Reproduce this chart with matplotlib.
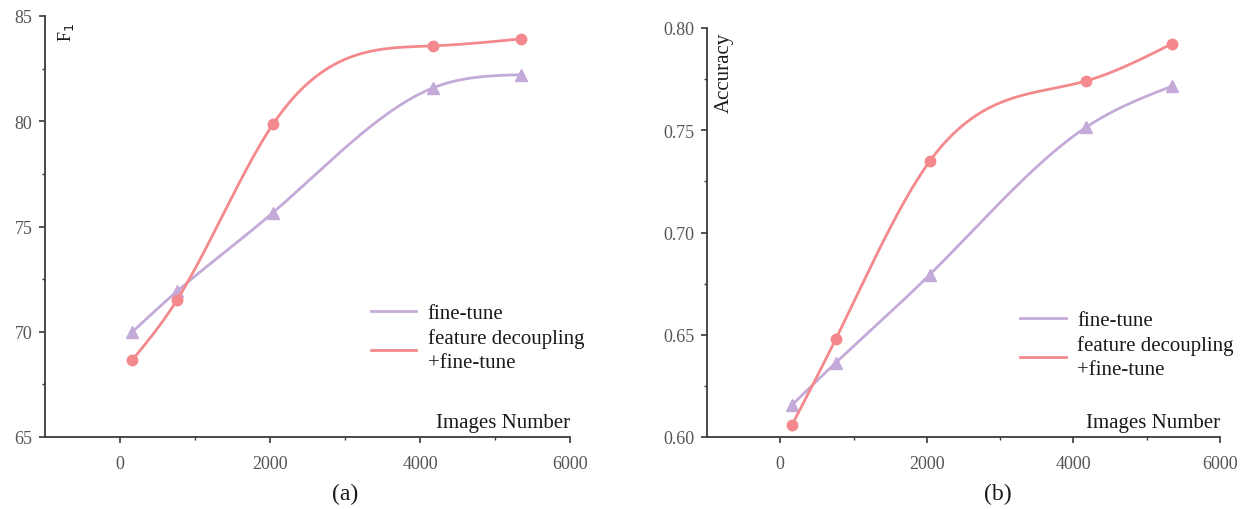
import numpy as np
import matplotlib
matplotlib.use("Agg")
import matplotlib.pyplot as plt
from matplotlib.ticker import MultipleLocator, FixedLocator

# ---- data ----
images = [160, 760, 2040, 4170, 5340]
f1_finetune = [69.98, 71.92, 75.66, 81.58, 82.21]
f1_decouple = [68.64, 71.51, 79.86, 83.58, 83.91]
acc_finetune = [0.6157, 0.6364, 0.6794, 0.7514, 0.7715]
acc_decouple = [0.6059, 0.6481, 0.7349, 0.7741, 0.7922]
x_ticks = [0, 2000, 4000, 6000]
f1_ticks = [65, 70, 75, 80, 85]
acc_ticks = [0.60, 0.65, 0.70, 0.75, 0.80]
label_ft = "fine-tune"
label_fd = "feature decoupling\n+fine-tune"

PURPLE = "#C4AAD8"
RED = "#F4898D"
AXC = "#3a3a3a"
TXC = "#555555"
SERIF = ["Liberation Serif", "DejaVu Serif"]


def spline(x, y, n=300):
    x = np.asarray(x, float); y = np.asarray(y, float)
    k = len(x); h = np.diff(x)
    A = np.zeros((k, k)); b = np.zeros(k)
    A[0, 0] = A[-1, -1] = 1
    for i in range(1, k - 1):
        A[i, i - 1] = h[i - 1]; A[i, i] = 2 * (h[i - 1] + h[i]); A[i, i + 1] = h[i]
        b[i] = 3 * ((y[i + 1] - y[i]) / h[i] - (y[i] - y[i - 1]) / h[i - 1])
    c = np.linalg.solve(A, b)
    xs = np.linspace(x[0], x[-1], n); ys = np.empty_like(xs)
    for j, xv in enumerate(xs):
        i = min(np.searchsorted(x, xv, side="right") - 1, k - 2)
        dx = xv - x[i]
        bi = (y[i + 1] - y[i]) / h[i] - h[i] * (c[i + 1] + 2 * c[i]) / 3
        di = (c[i + 1] - c[i]) / (3 * h[i])
        ys[j] = y[i] + bi * dx + c[i] * dx ** 2 + di * dx ** 3
    return xs, ys


fig = plt.figure(figsize=(12.41, 5.10), dpi=100)
W, H = 1241, 510


def make_ax(l, r, t, b):
    return fig.add_axes([l / W, 1 - b / H, (r - l) / W, (b - t) / H])


def style(ax, yticks, ylim, yfmt, yminor):
    ax.set_xlim(-1000, 6000)
    ax.set_ylim(*ylim)
    for s in ("top", "right"):
        ax.spines[s].set_visible(False)
    for s in ("left", "bottom"):
        ax.spines[s].set_color(AXC)
        ax.spines[s].set_linewidth(1.3)
    ax.xaxis.set_major_locator(FixedLocator(x_ticks))
    ax.xaxis.set_minor_locator(FixedLocator([1000, 3000, 5000]))
    ax.yaxis.set_major_locator(FixedLocator(yticks))
    ax.yaxis.set_minor_locator(MultipleLocator(yminor))
    ax.set_yticklabels([yfmt.format(v) for v in yticks])
    ax.tick_params(which="major", direction="out", length=4, width=1.2, color=AXC,
                   labelsize=13, labelcolor=TXC)
    ax.tick_params(axis="x", which="major", pad=9)
    ax.tick_params(axis="y", which="major", pad=5)
    ax.tick_params(which="minor", direction="out", length=2, width=1.0, color=AXC)
    for lab in ax.get_xticklabels() + ax.get_yticklabels():
        lab.set_family(SERIF)


def draw(ax, yft, yfd, lx, ly):
    xs, ys = spline(images, yft)
    ax.plot(xs, ys, color=PURPLE, lw=2)
    ax.plot(images, yft, ls="none", marker="^", ms=8, color=PURPLE)
    xs, ys = spline(images, yfd)
    ax.plot(xs, ys, color=RED, lw=2)
    ax.plot(images, yfd, ls="none", marker="o", ms=7.5, color=RED)
    h1, = ax.plot([], [], color=PURPLE, lw=2)
    h2, = ax.plot([], [], color=RED, lw=2)
    leg = ax.legend([h1, h2], [label_ft, label_fd], loc="upper left",
                    bbox_to_anchor=(lx, ly), frameon=False, handlelength=2.2,
                    handletextpad=0.55, labelspacing=0.25, borderaxespad=0,
                    borderpad=0, prop={"family": SERIF, "size": 15})
    for t in leg.get_texts():
        t.set_color("#1a1a1a")
        t.set_linespacing(1.35)
    ax.text(1.0, 0.012, "Images Number", transform=ax.transAxes, ha="right",
            va="bottom", fontsize=15, family=SERIF, color="#1a1a1a")


ax1 = make_ax(45, 570, 17, 438)
style(ax1, f1_ticks, (65, 85), "{:.0f}", 2.5)
draw(ax1, f1_finetune, f1_decouple, 0.62, 0.317)
ax1.text(0.02, 0.985, "F$_1$", transform=ax1.transAxes, rotation=90, ha="left",
         va="top", fontsize=13, family=SERIF, color="#1a1a1a")
fig.text(345 / W, 1 - 494 / H, "(a)", ha="center", va="center", fontsize=17,
         family=SERIF, color="#1a1a1a")

ax2 = make_ax(707, 1220, 29, 438)
style(ax2, acc_ticks, (0.60, 0.80), "{:.2f}", 0.025)
draw(ax2, acc_finetune, acc_decouple, 0.61, 0.31)
ax2.text(0.015, 0.99, "Accuracy", transform=ax2.transAxes, rotation=90, ha="left",
         va="top", fontsize=15, family=SERIF, color="#1a1a1a")
fig.text(998 / W, 1 - 494 / H, "(b)", ha="center", va="center", fontsize=17,
         family=SERIF, color="#1a1a1a")

fig.savefig("out.png", dpi=100, facecolor="white")
